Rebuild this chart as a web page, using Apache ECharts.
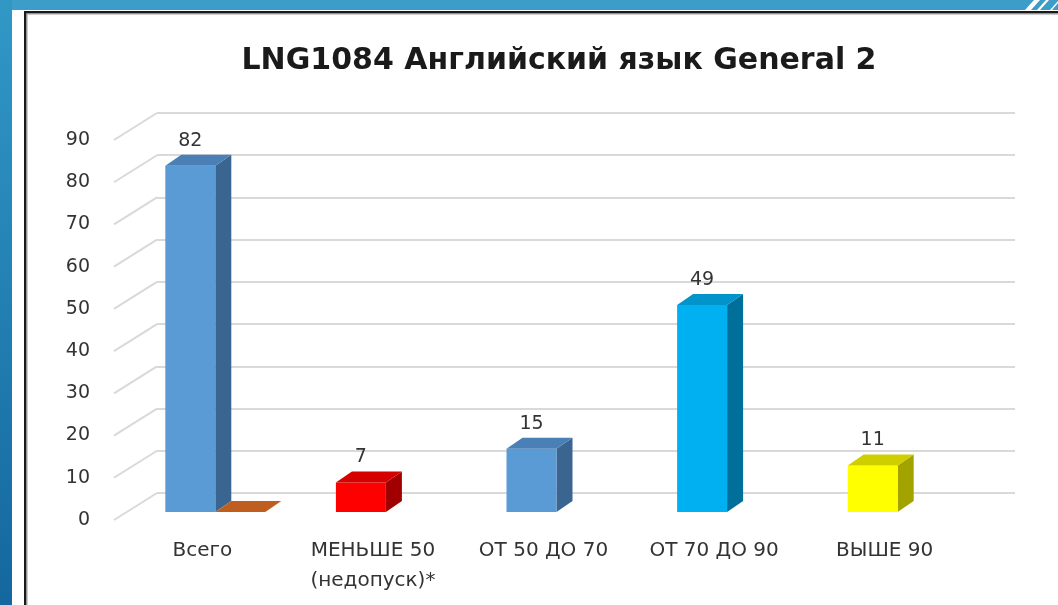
<!DOCTYPE html>
<html>
<head>
<meta charset="utf-8">
<script src="https://cdn.jsdelivr.net/npm/echarts@6/dist/echarts.min.js"></script>
<style>
html,body{margin:0;padding:0;background:#fff;}
#chart{width:1058px;height:605px;}
</style>
</head>
<body>
<div id="chart"></div>
<script>
const titleText = 'LNG1084 Английский язык General 2';
const categories = ['Всего', 'МЕНЬШЕ 50\n(недопуск)*', 'ОТ 50 ДО 70', 'ОТ 70 ДО 90', 'ВЫШЕ 90'];
const seriesMain = [82, 7, 15, 49, 11];
const seriesExtra = [0, null, null, null, null];
const yTicks = [0, 10, 20, 30, 40, 50, 60, 70, 80, 90];
// face colours: [front, top, side]
const mainColors = [
  ['#5B9BD5', '#4A80B6', '#3A6590'],
  ['#FF0000', '#D60000', '#A00000'],
  ['#5B9BD5', '#4A80B6', '#3A6590'],
  ['#00B0F0', '#0094CB', '#006F99'],
  ['#FFFF00', '#CFCF00', '#A3A300']
];
const extraColors = [['#ED7D31', '#BF5E1E', '#9A4A16']];

const DX = 16, DY = -11; // depth offset of bar boxes
const FONT = 'DejaVu Sans';

function boxRender(colors, slot, showLabel) {
  return function (params, api) {
    const v = api.value(1);
    if (v == null || isNaN(v)) return;
    const idx = api.value(0);
    const band = api.size([1, 0])[0];
    const w = band * 0.293;
    const top = api.coord([idx, v]);
    const base = api.coord([idx, 0]);
    const x0 = top[0] - w / 2 + slot * w;
    const x1 = x0 + w;
    const yT = top[1], yB = base[1];
    const c = colors[params.dataIndex % colors.length];
    const children = [];
    if (yB - yT > 0.5) {
      children.push({type: 'polygon', shape: {points: [[x1, yT], [x1 + DX, yT + DY], [x1 + DX, yB + DY], [x1, yB]]}, style: {fill: c[2]}});
      children.push({type: 'rect', shape: {x: x0, y: yT, width: w, height: yB - yT}, style: {fill: c[0]}});
    }
    children.push({type: 'polygon', shape: {points: [[x0, yT], [x0 + DX, yT + DY], [x1 + DX, yT + DY], [x1, yT]]}, style: {fill: c[1]}});
    if (showLabel) {
      children.push({type: 'text', style: {text: String(v), x: (x0 + x1) / 2, y: yT - 25, align: 'center', verticalAlign: 'middle', fontSize: 19, fontFamily: FONT, fill: '#333333'}});
    }
    return {type: 'group', children: children};
  };
}

const chart = echarts.init(document.getElementById('chart'), null, {renderer: 'canvas'});

const option = {
  backgroundColor: '#ffffff',
  animation: false,
  title: {
    text: titleText,
    left: 554,
    textAlign: 'center',
    top: 41,
    textStyle: {fontFamily: FONT, fontWeight: 'bold', fontSize: 30, color: '#1a1a1a'}
  },
  graphic: [
    {type: 'rect', shape: {x: 0, y: 0, width: 1058, height: 10}, style: {fill: '#3C9DC8'}, z: 100},
    {type: 'rect', shape: {x: 0, y: 0, width: 12, height: 605}, z: 100,
      style: {fill: new echarts.graphic.LinearGradient(0, 0, 0, 1, [{offset: 0, color: '#3198C6'}, {offset: 1, color: '#14679F'}])}},
    {type: 'polygon', shape: {points: [[1025, 10], [1034, 0], [1040, 0], [1031, 10]]}, style: {fill: '#ffffff'}, z: 101},
    {type: 'polygon', shape: {points: [[1037, 10], [1046, 0], [1049, 0], [1040, 10]]}, style: {fill: '#ffffff'}, z: 101},
    {type: 'polygon', shape: {points: [[1050, 10], [1058, 1], [1058, 3], [1052, 10]]}, style: {fill: '#ffffff'}, z: 101},
    {type: 'rect', shape: {x: 24, y: 11, width: 1040, height: 2.5}, style: {fill: '#1a1a1a'}, z: 100},
    {type: 'rect', shape: {x: 24, y: 11, width: 2.5, height: 600}, style: {fill: '#1a1a1a'}, z: 100},
    {type: 'rect', shape: {x: 26.5, y: 13.5, width: 1040, height: 1}, style: {fill: '#9a9a9a'}, z: 100},
    {type: 'rect', shape: {x: 26.5, y: 13.5, width: 1, height: 600}, style: {fill: '#9a9a9a'}, z: 100}
  ],
  grid: [
    {left: 117, width: 853, top: 140, height: 380},
    {left: 157, right: 43, top: 113, height: 380},
    {left: 105, width: 853, top: 132, height: 380}
  ],
  xAxis: [
    {type: 'category', gridIndex: 0, data: categories,
      axisLine: {show: false}, axisTick: {show: false},
      axisLabel: {margin: 16, fontSize: 20, fontFamily: FONT, color: '#333333', lineHeight: 30, interval: 0}},
    {type: 'value', gridIndex: 1, min: 0, max: 1, show: false},
    {type: 'category', gridIndex: 2, data: categories, show: false}
  ],
  yAxis: [
    {type: 'value', gridIndex: 0, min: 0, max: 90, interval: 10,
      axisLine: {show: false}, axisTick: {show: false}, splitLine: {show: false},
      axisLabel: {margin: 27, fontSize: 19, fontFamily: FONT, color: '#333333'}},
    {type: 'value', gridIndex: 1, min: 0, max: 90, interval: 10,
      axisLine: {show: false}, axisTick: {show: false}, axisLabel: {show: false},
      splitLine: {show: true, lineStyle: {color: '#d9d9d9', width: 2}}},
    {type: 'value', gridIndex: 2, min: 0, max: 90, show: false}
  ],
  series: [
    {
      type: 'custom', xAxisIndex: 1, yAxisIndex: 1, silent: true,
      data: yTicks.map(t => [0, t]),
      renderItem: function (params, api) {
        const p = api.coord([0, api.value(1)]);
        return {type: 'line', shape: {x1: p[0] - 43, y1: p[1] + 27, x2: p[0], y2: p[1]}, style: {stroke: '#d9d9d9', lineWidth: 2}};
      }
    },
    {
      type: 'custom', xAxisIndex: 2, yAxisIndex: 2, silent: true, z: 3,
      data: seriesMain.map((v, i) => [i, v]),
      renderItem: boxRender(mainColors, 0, true)
    },
    {
      type: 'custom', xAxisIndex: 2, yAxisIndex: 2, silent: true, z: 3,
      data: seriesExtra.map((v, i) => [i, v]),
      renderItem: boxRender(extraColors, 1, false)
    }
  ]
};
chart.setOption(option);
</script>
</body>
</html>
